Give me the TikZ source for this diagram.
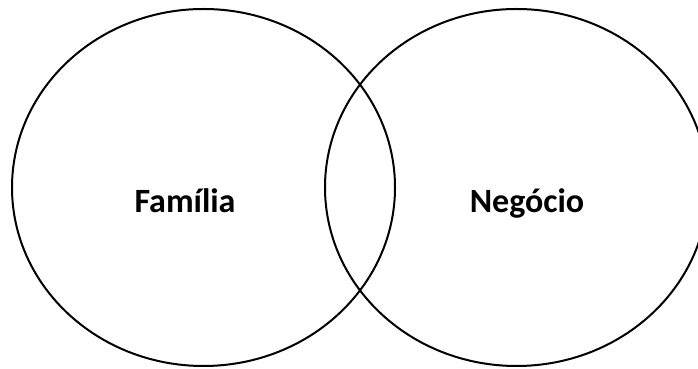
\documentclass[tikz,border=0pt]{standalone}
\usepackage{fontspec}
\setmainfont{Carlito}
\usetikzlibrary{shapes.geometric}
\begin{document}
\begin{tikzpicture}[x=1pt,y=1pt,
  setbox/.style={ellipse,draw=black,line width=2pt,minimum width=383pt,minimum height=357pt,inner sep=0pt},
  label/.style={font=\fontsize{34}{40}\selectfont\bfseries,text=black,inner sep=0pt}]
\useasboundingbox (0,0) rectangle (698,369);
\clip (0,0) rectangle (698,369);
\fill[white] (0,0) rectangle (698,369);
\node[setbox] (fam) at (203.5,181.5) {};
\node[setbox] (neg) at (516.5,181.5) {};
\node[label,anchor=base] (famt) at (185,156) {Família};
\node[label,anchor=base] (negt) at (527,156) {Negócio};
\end{tikzpicture}
\end{document}
